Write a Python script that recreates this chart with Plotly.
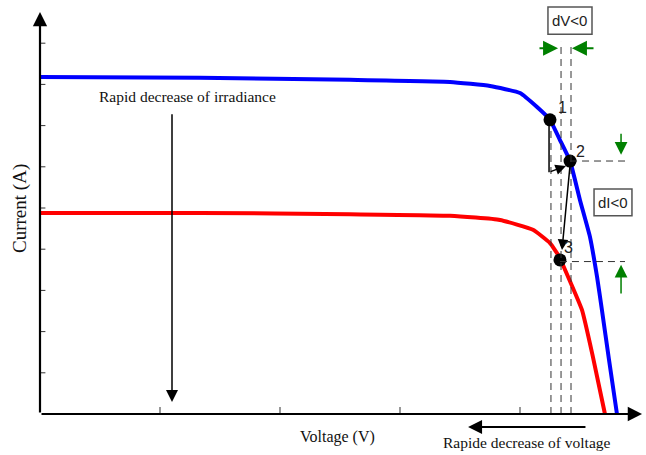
import plotly.graph_objects as go

# Data (arbitrary units: 1 x-unit per voltage tick, 1 y-unit per current tick)
v_high = [0, 1.333, 2.583, 3.417, 3.75, 4.0, 4.142, 4.25, 4.333, 4.417, 4.5, 4.583, 4.642, 4.683, 4.742, 4.808]
i_high = [8.18, 8.16, 8.11, 8.06, 7.96, 7.79, 7.45, 7.14, 6.65, 6.14, 5.19, 4.30, 3.33, 2.52, 1.31, 0.0]
v_low = [0, 1.333, 2.583, 3.417, 3.833, 4.108, 4.25, 4.333, 4.35, 4.517, 4.608, 4.708]
i_low = [4.88, 4.88, 4.85, 4.81, 4.71, 4.47, 4.15, 3.79, 3.67, 2.52, 1.38, 0.0]
pt_v = [4.25, 4.417, 4.333]
pt_i = [7.14, 6.14, 3.74]
pt_labels = ["1", "2", "3"]
x_ticks = [1, 2, 3, 4]
y_ticks = [1, 2, 3, 4, 5, 6, 7, 8, 9]
x_end = 5.017
y_end = 9.76
dash_v = [4.258, 4.342, 4.425]
dash_v_top = [7.0, 9.03, 9.03]
dash_h = [6.14, 3.70]

fig = go.Figure()
fig.add_trace(go.Scatter(x=v_high, y=i_high, mode="lines",
                         line=dict(color="#0000ff", width=4, shape="spline", smoothing=0.4),
                         hoverinfo="skip"))
fig.add_trace(go.Scatter(x=v_low, y=i_low, mode="lines",
                         line=dict(color="#ff0000", width=4, shape="spline", smoothing=0.4),
                         hoverinfo="skip"))

DASH = "7px,5px"
shapes = []
# ticks
for t in y_ticks:
    shapes.append(dict(type="line", x0=0, x1=0.045, y0=t, y1=t, line=dict(color="#333", width=1)))
for t in x_ticks:
    shapes.append(dict(type="line", x0=t, x1=t, y0=0, y1=0.17, line=dict(color="#333", width=1)))
# dashed verticals
for xv, top in zip(dash_v, dash_v_top):
    shapes.append(dict(type="line", x0=xv, x1=xv, y0=0, y1=top,
                       line=dict(color="#333", width=1, dash=DASH)))
# dashed horizontals
shapes.append(dict(type="line", x0=pt_v[1], x1=4.875, y0=dash_h[0], y1=dash_h[0],
                   line=dict(color="#333", width=1, dash=DASH)))
shapes.append(dict(type="line", x0=pt_v[2], x1=4.875, y0=dash_h[1], y1=dash_h[1],
                   line=dict(color="#333", width=1, dash=DASH)))
# black vertical from point 1
shapes.append(dict(type="line", x0=4.242, x1=4.242, y0=7.0, y1=5.87, line=dict(color="black", width=1.5)))
# boxes
shapes.append(dict(type="rect", x0=4.233, x1=4.6, y0=9.22, y1=9.88, line=dict(color="#555", width=1.5)))
shapes.append(dict(type="rect", x0=4.617, x1=4.933, y0=4.81, y1=5.46, line=dict(color="#555", width=1.5)))

fig.add_trace(go.Scatter(x=pt_v, y=pt_i, mode="markers",
                         marker=dict(color="black", size=13), hoverinfo="skip"))

ann = []
def arrow(x0, y0, x1, y1, color="black", width=2, head=2, size=1.0):
    ann.append(dict(x=x1, y=y1, ax=x0, ay=y0, xref="x", yref="y", axref="x", ayref="y",
                    text="", showarrow=True, arrowhead=head, arrowsize=size,
                    arrowwidth=width, arrowcolor=color, standoff=0, startstandoff=0))

# axes
arrow(0, 0, 0, y_end, width=2.2, head=2, size=1.3)
arrow(0, 0, x_end, 0, width=2.2, head=2, size=1.3)
# irradiance arrow
arrow(1.1, 7.31, 1.1, 0.29, width=1.5, head=2, size=1.6)
# voltage arrow
arrow(4.558, -0.316, 3.567, -0.316, width=2, head=2, size=1.4)
# point arrows
arrow(4.242, 5.87, 4.383, 6.02, width=1.5, head=2, size=1.4)
arrow(4.417, 6.04, 4.35, 3.98, width=1.5, head=2, size=1.4)
# green arrows
G = "#008000"
arrow(4.15, 8.88, 4.317, 8.88, color=G, width=2, head=2, size=1.5)
arrow(4.625, 8.88, 4.433, 8.88, color=G, width=2, head=2, size=1.5)
arrow(4.842, 6.84, 4.842, 6.29, color=G, width=1.5, head=2, size=1.7)
arrow(4.842, 2.89, 4.842, 3.62, color=G, width=1.5, head=2, size=1.7)

def text(x, y, s, size, fam, color="#111", angle=0):
    ann.append(dict(x=x, y=y, xref="x", yref="y", text=s, showarrow=False,
                    textangle=angle, font=dict(family=fam, size=size, color=color),
                    xanchor="center", yanchor="middle"))

serif = "Liberation Serif, Times New Roman, serif"
sans = "Liberation Sans, Arial, sans-serif"
text(1.225, 7.70, "Rapid decrease of irradiance", 15.5, serif)
text(2.475, -0.56, "Voltage (V)", 16, serif)
text(4.058, -0.70, "Rapide decrease of voltage", 15.5, serif)
text(-0.167, 5.0, "Current (A)", 19, serif, angle=-90)
text(4.4165, 9.55, "dV&lt;0", 15, sans, "#222")
text(4.775, 5.135, "dI&lt;0", 15, sans, "#222")
label_pos = [(4.358, 7.45), (4.5, 6.38), (4.408, 4.03)]
for (lx, ly), s in zip(label_pos, pt_labels):
    text(lx, ly, s, 16, sans, "#222")

fig.update_layout(
    width=646, height=455, margin=dict(l=0, r=0, t=0, b=0),
    paper_bgcolor="white", plot_bgcolor="white", showlegend=False,
    xaxis=dict(range=[-40/120, 606/120], visible=False, fixedrange=True),
    yaxis=dict(range=[-41/41.2, 414/41.2], visible=False, fixedrange=True),
    shapes=shapes, annotations=ann,
)
fig.write_html("out.html")
